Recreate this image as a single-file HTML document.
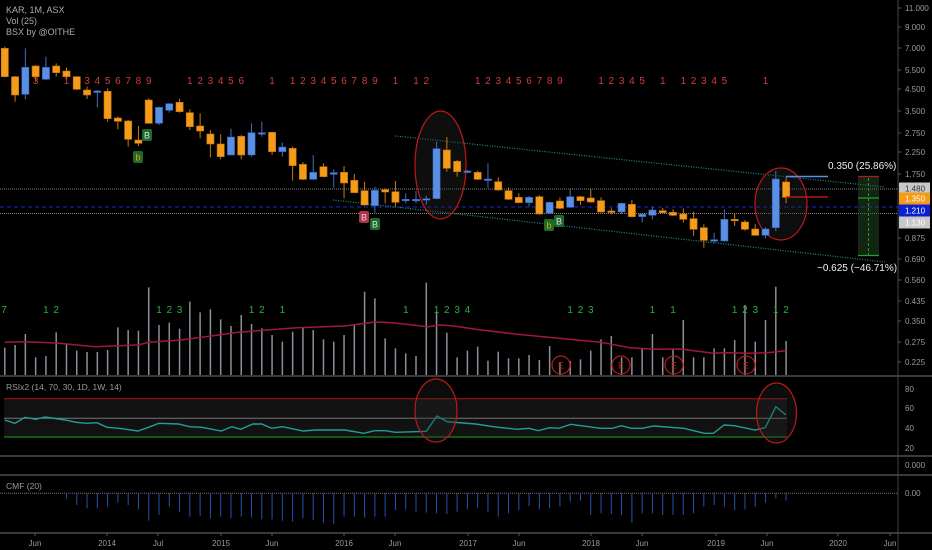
<!DOCTYPE html>
<html><head><meta charset="utf-8"><style>
html,body{margin:0;padding:0;background:#000;}
svg{display:block;font-family:"Liberation Sans",sans-serif;}
</style></head><body>
<svg id="s" width="932" height="550" xmlns="http://www.w3.org/2000/svg">
<rect width="932" height="550" fill="#000"/>
<g id="g"></g>
</svg>
<script>
var NS="http://www.w3.org/2000/svg",G=document.getElementById('g');
function el(t,a,txt){var e=document.createElementNS(NS,t);for(var k in a)e.setAttribute(k,a[k]);if(txt!==undefined)e.textContent=txt;G.appendChild(e);return e;}
var O='#f59b1a',B='#5b8fe3';
function X(i){return 4.8+10.28*i;}
// pane separators
[376,456,475,533].forEach(function(y){el('line',{x1:0,x2:932,y1:y,y2:y,stroke:'#3a3a3a','stroke-width':2});});
el('line',{x1:898,x2:898,y1:0,y2:550,stroke:'#444'});
// horizontal refs
el('line',{x1:0,x2:898,y1:189,y2:189,stroke:'#888','stroke-dasharray':'1,1'});
el('line',{x1:0,x2:898,y1:213.5,y2:213.5,stroke:'#888','stroke-dasharray':'1,1'});
el('line',{x1:0,x2:898,y1:207,y2:207,stroke:'#1a2ad0','stroke-dasharray':'4,3'});
// channel
el('line',{x1:395,y1:136,x2:885,y2:187,stroke:'#1f8f8a','stroke-dasharray':'1,1.5','stroke-width':1.2});
el('line',{x1:333,y1:200,x2:885,y2:262,stroke:'#1f8f8a','stroke-dasharray':'1,1.5','stroke-width':1.2});
// ellipses price
el('ellipse',{cx:440.5,cy:165,rx:25.5,ry:54,fill:'rgba(40,40,40,0.35)',stroke:'#c01818','stroke-width':1.2});
el('ellipse',{cx:781,cy:204,rx:26,ry:36,fill:'rgba(40,40,40,0.35)',stroke:'#c01818','stroke-width':1.2});
// volume bars
var vt=[203,195,162,232,228,157,190,212,216,216,210,142,150,152,22,135,128,146,65,97,88,118,138,105,132,145,165,185,155,142,150,178,185,165,135,35,55,175,205,220,228,8,95,158,232,212,200,242,215,235,235,225,240,198,248,243,238,212,178,168,232,232,205,162,232,205,120,232,232,205,205,180,75,185,120,20,183];
for(var i=0;i<77;i++){var x=X(i);el('line',{x1:x,x2:x,y1:280+vt[i]/3,y2:375,stroke:'#8a8f9a','stroke-width':1.5});}
var ma=[[8,187],[42,185],[94,189],[160,200],[232,195],[250,187],[300,181],[340,172],[400,157],[500,143],[580,138],[630,126],[660,128],[720,140],[740,135],[760,137],[800,148],[870,163],[940,175],[1010,187],[1060,203],[1100,208],[1145,207],[1200,220],[1220,218],[1260,220],[1290,218],[1322,212]];
el('polyline',{points:ma.map(function(p){return (p[0]/1.682).toFixed(1)+','+(280+p[1]/3).toFixed(1);}).join(' '),fill:'none',stroke:'#a0183a','stroke-width':1.5});
[561,621,674,746].forEach(function(x){el('circle',{cx:x,cy:365,r:9,fill:'none',stroke:'#c01818','stroke-width':1.2});el('text',{x:x,y:368.5,'font-size':9,fill:'#c01818','text-anchor':'middle'},'E');});
// candles
var c1=[[O,145,230,140,232],[O,230,285,228,305],[B,202,283,145,298],[O,198,230,195,245],[B,202,238,170,240],[O,198,218,190,230],[O,213,230,203,240],[O,230,268,228,270],[O,270,285,260,297],[B,273,277,270,322],[O,274,356,265,365],[O,354,364,350,388],[O,363,418,360,440],[O,420,430,378,438],[O,300,370,295,372],[B,322,370,320,375],[B,311,331,309,338],[O,307,335,296,338],[O,338,380,328,390],[O,378,393,340,415],[O,402,432,390,472],[O,432,470,403,478],[B,411,465,386,465],[O,409,465,405,478],[B,398,465,370,470],[B,398,402,365,410],[O,397,455,395,465],[B,441,455,428,470],[O,445,497,440,542],[O,493,538,486,540],[B,517,538,465,540],[O,500,530,490,532],[B,518,523,508,563],[O,517,549,498,595],[O,541,578,522,580],[O,572,615,545,617],[B,571,617,560,638],[O,569,576,566,610],[O,575,607,543,620],[B,598,602,580,610],[B,598,602,573,609],[B,596,600,587,614],[B,446,596,425,598],[O,450,505,411,515],[O,484,515,480,530]];
var c2=[[B,333,337,330,340],[O,337,358,332,360],[B,357,360,310,383],[O,365,390,352,392],[O,392,418,382,420],[O,412,428,400,430],[B,412,428,408,440],[O,410,462,406,464],[B,427,460,425,462],[O,423,445,412,448],[B,410,442,388,444],[O,410,422,408,435],[O,414,426,388,428],[O,422,456,412,458],[O,453,457,445,462],[B,430,456,428,462],[O,433,470,420,472],[B,462,470,460,487],[B,450,466,440,478],[O,452,458,444,460],[O,457,466,448,468],[O,462,478,445,488],[O,476,508,455,528],[O,503,541,493,563],[B,539,543,518,550],[B,478,543,448,545],[O,478,482,460,498],[O,486,508,480,512],[O,507,526,493,528],[B,507,526,502,535],[B,357,503,333,513],[O,366,412,352,430]];
var C=[];c1.forEach(function(c){C.push([c[0],c[1]/3,c[2]/3,c[3]/3,c[4]/3]);});
c2.forEach(function(c){C.push([c[0],60+c[1]/3,60+c[2]/3,60+c[3]/3,60+c[4]/3]);});
C.forEach(function(c,i){var x=X(i);el('line',{x1:x,x2:x,y1:c[3],y2:c[4],stroke:c[0]==O?'#c87a10':'#3f6fc0','stroke-width':1});
 var h=Math.max(c[2]-c[1],1.5);el('rect',{x:x-3.6,y:c[1],width:7.2,height:h,fill:c[0],stroke:c[0]==O?'#c07010':'#3060b0','stroke-width':0.6});});
// red counts
function seq(s,e,start,y,col,fs){for(var i=s;i<=e;i++)el('text',{x:X(i),y:y,'font-size':fs||10,fill:col,'text-anchor':'middle'},String(start+i-s));}
var R='#d83a3a';
el('text',{x:X(3),y:84,'font-size':10,fill:R,'text-anchor':'middle'},'3');
el('text',{x:X(6),y:84,'font-size':10,fill:R,'text-anchor':'middle'},'1');
seq(8,14,3,84,R);seq(18,23,1,84,R);seq(26,26,1,84,R);seq(28,36,1,84,R);seq(38,38,1,84,R);seq(40,41,1,84,R);
seq(46,54,1,84,R);seq(58,62,1,84,R);seq(64,64,1,84,R);seq(66,70,1,84,R);seq(74,74,1,84,R);
var Gc='#2fae3a';
el('text',{x:4,y:313,'font-size':10,fill:Gc,'text-anchor':'middle'},'7');
seq(4,5,1,313,Gc);seq(15,17,1,313,Gc);seq(24,25,1,313,Gc);seq(27,27,1,313,Gc);seq(39,39,1,313,Gc);seq(42,45,1,313,Gc);
seq(55,57,1,313,Gc);seq(63,63,1,313,Gc);seq(65,65,1,313,Gc);seq(71,73,1,313,Gc);seq(75,76,1,313,Gc);
// B markers
function mk(x,y,bg,t,tc){el('rect',{x:x-5,y:y-6,width:10,height:12,rx:2,fill:bg});el('text',{x:x,y:y+3.5,'font-size':9,fill:tc||'#ddd','text-anchor':'middle'},t);}
mk(147,135,'#1d6b2a','B');mk(138,157,'#1d6b2a','b','#f59b1a');mk(364,217,'#b0304a','B');mk(375,224,'#1d6b2a','B');mk(549,225,'#1d6b2a','b','#f59b1a');mk(559,221,'#1d6b2a','B');
// projections
el('line',{x1:786,x2:828,y1:176.5,y2:176.5,stroke:'#5b8fe3','stroke-width':1.5});
el('line',{x1:786,x2:828,y1:197,y2:197,stroke:'#b01a1a','stroke-width':1.5});
el('rect',{x:858,y:176.5,width:21,height:79,fill:'rgba(40,80,40,0.45)'});
el('line',{x1:858,x2:879,y1:176.5,y2:176.5,stroke:'#b01a1a','stroke-width':1.2});
el('line',{x1:858,x2:879,y1:198,y2:198,stroke:'#2a9a2a','stroke-width':1.2});
el('line',{x1:858,x2:879,y1:255.5,y2:255.5,stroke:'#2a9a2a','stroke-width':1.2});
el('line',{x1:868.5,x2:868.5,y1:178,y2:255,stroke:'#2a9a2a','stroke-dasharray':'3,2'});
el('text',{x:828,y:169,'font-size':10,fill:'#eee'},'0.350 (25.86%)');
el('text',{x:817,y:271,'font-size':10,fill:'#eee'},'\u22120.625 (\u221246.71%)');
// header
el('text',{x:6,y:13,'font-size':9,fill:'#aaa'},'KAR, 1M, ASX');
el('text',{x:6,y:24,'font-size':9,fill:'#aaa'},'Vol (25)');
el('text',{x:6,y:35,'font-size':9,fill:'#aaa'},'BSX by @OITHE');
// price axis
[['11.000',8],['9.000',27],['7.000',48],['5.500',70],['4.500',89],['3.500',111],['2.750',133],['2.250',152],['1.750',174],['0.875',238],['0.690',259],['0.560',280],['0.435',301],['0.350',321],['0.275',342],['0.225',362]].forEach(function(a){
 el('line',{x1:898,x2:901,y1:a[1],y2:a[1],stroke:'#555'});el('text',{x:905,y:a[1]+3,'font-size':8,fill:'#999'},a[0]);});
[['1.480',188.5,'#c8c8c8','#333'],['1.350',198.5,'#f59b1a','#fff'],['1.210',210.5,'#0a1fd0','#fff'],['1.130',222.5,'#c8c8c8','#fff']].forEach(function(a){
 el('rect',{x:899,y:a[1]-6,width:31,height:12,fill:a[2]});el('text',{x:905,y:a[1]+3,'font-size':8,fill:a[3]},a[0]);});
// RSI pane
el('text',{x:6,y:390,'font-size':8.5,fill:'#999'},'RSIx2 (14, 70, 30, 1D, 1W, 14)');
el('rect',{x:4,y:398.7,width:783,height:38.3,fill:'#111'});
el('line',{x1:4,x2:787,y1:398.7,y2:398.7,stroke:'#a01010','stroke-width':1.2});
el('line',{x1:4,x2:787,y1:418.3,y2:418.3,stroke:'#777','stroke-width':1});
el('line',{x1:4,x2:787,y1:437,y2:437,stroke:'#1a8a1a','stroke-width':1.2});
var rp=[[8,150],[25,160],[42,142],[60,148],[76,141],[110,150],[128,157],[146,160],[163,158],[180,172],[200,175],[232,183],[250,172],[267,160],[300,162],[319,170],[340,172],[372,183],[390,170],[405,178],[425,162],[440,162],[457,175],[475,170],[510,183],[530,180],[580,180],[612,190],[630,182],[648,182],[665,187],[717,184],[735,138],[752,155],[800,162],[830,170],[870,178],[890,175],[905,182],[925,173],[940,175],[960,163],[1010,175],[1030,175],[1045,167],[1062,175],[1080,175],[1100,168],[1150,175],[1185,190],[1200,190],[1218,165],[1235,167],[1270,180],[1287,173],[1305,110],[1322,135]];
el('polyline',{points:rp.map(function(p){return (p[0]/1.682).toFixed(1)+','+(370+p[1]/3).toFixed(1);}).join(' '),fill:'none',stroke:'#1f9f95','stroke-width':1.4});
el('ellipse',{cx:436,cy:410.5,rx:21,ry:31.5,fill:'rgba(40,40,40,0.3)',stroke:'#c01818','stroke-width':1.2});
el('ellipse',{cx:776.5,cy:413,rx:20,ry:30,fill:'rgba(40,40,40,0.3)',stroke:'#c01818','stroke-width':1.2});
[['80',389],['60',408],['40',428],['20',448]].forEach(function(a){el('text',{x:905,y:a[1]+3,'font-size':8,fill:'#999'},a[0]);});
el('text',{x:905,y:468,'font-size':8,fill:'#999'},'0.000');
// CMF
el('text',{x:6,y:489,'font-size':8.5,fill:'#999'},'CMF (20)');
el('line',{x1:0,x2:898,y1:493.3,y2:493.3,stroke:'#777','stroke-dasharray':'1,1'});
el('text',{x:905,y:496,'font-size':8,fill:'#999'},'0.00');
var cm=[370,372,372,372,372,372,385,405,415,415,410,398,405,418,452,435,410,425,440,438,445,440,445,440,442,448,448,452,455,445,450,458,462,440,440,443,440,440,420,418,425,428,430,432,425,418,413,425,440,430,420,408,418,415,410,395,392,435,430,432,435,458,430,430,435,435,435,430,410,405,410,420,418,410,398,385,392];
for(var i=0;i<77;i++){var x=X(i);el('line',{x1:x,x2:x,y1:493.3,y2:370+cm[i]/3,stroke:'#2950b0','stroke-width':1});}
// time axis
[['Jun',35],['2014',107],['Jul',158],['2015',221],['Jun',272],['2016',344],['Jun',395],['2017',468],['Jun',519],['2018',591],['Jun',642],['2019',716],['Jun',767],['2020',838],['Jun',890]].forEach(function(a){
 el('line',{x1:a[1],x2:a[1],y1:533,y2:536,stroke:'#555'});el('text',{x:a[1],y:546,'font-size':8,fill:'#999','text-anchor':'middle'},a[0]);});
</script>
</body></html>
